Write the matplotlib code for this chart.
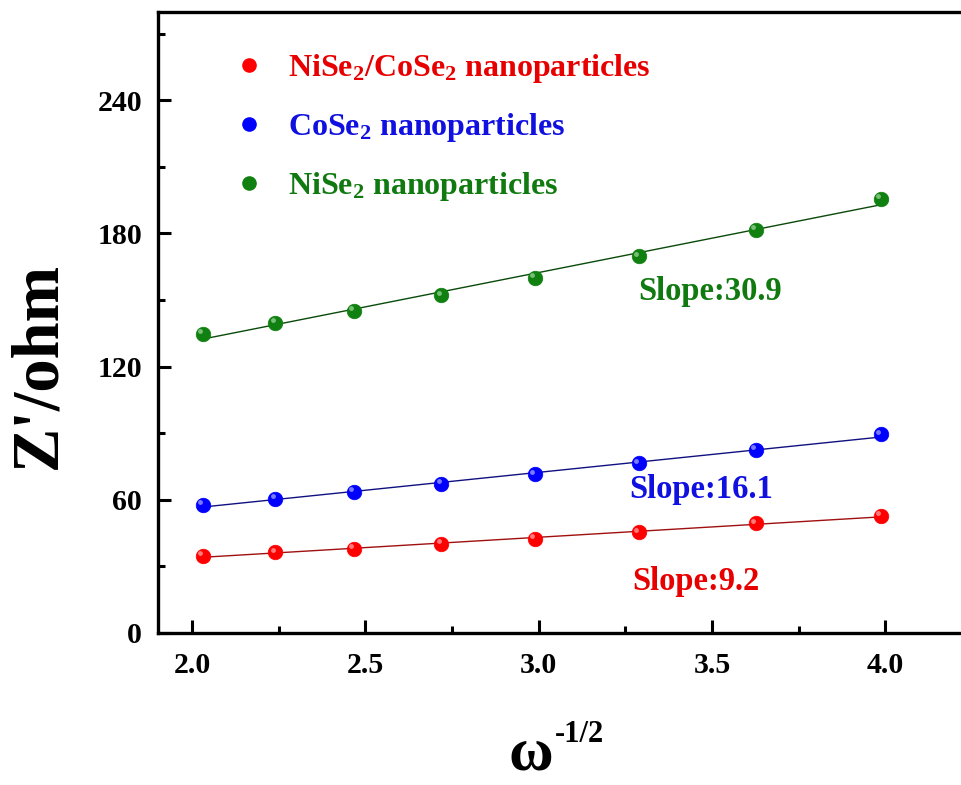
import matplotlib
matplotlib.use("Agg")
import matplotlib.pyplot as plt
import numpy as np
from matplotlib.lines import Line2D
from matplotlib.transforms import offset_copy

# ---- data ----
x_vals = [2.030, 2.240, 2.467, 2.719, 2.988, 3.290, 3.627, 3.986]
z_nise_cose = [34.7, 36.2, 37.8, 40.0, 42.3, 45.2, 49.3, 52.7]
z_cose = [57.7, 60.4, 63.4, 67.0, 71.4, 76.3, 82.3, 89.4]
z_nise = [134.9, 139.7, 145.1, 152.1, 160.1, 169.7, 181.7, 195.7]

labels = ["NiSe$_2$/CoSe$_2$ nanoparticles", "CoSe$_2$ nanoparticles", "NiSe$_2$ nanoparticles"]
slope_texts = ["Slope:9.2", "Slope:16.1", "Slope:30.9"]
x_ticks = [2.0, 2.5, 3.0, 3.5, 4.0]
y_ticks = [0, 60, 120, 180, 240]

plt.rcParams['font.family'] = ['Liberation Serif', 'DejaVu Serif']
plt.rcParams['font.weight'] = 'bold'
plt.rcParams['mathtext.fontset'] = 'custom'
plt.rcParams['mathtext.rm'] = 'Liberation Serif:bold'
plt.rcParams['mathtext.it'] = 'Liberation Serif:bold:italic'
plt.rcParams['mathtext.bf'] = 'Liberation Serif:bold'
plt.rcParams['mathtext.default'] = 'rm'

W, H = 961, 785
fig = plt.figure(figsize=(W / 100, H / 100), dpi=100)
# axes: left spine x=157.5px, bottom y=632.7px, top y=11.7px; right edge beyond figure
left = 157.5 / W
bottom = (H - 632.7) / H
top = (H - 11.7) / H
xmin, xmax = 1.9, 4.3
px_per_unit = 346.6
width = (xmax - xmin) * px_per_unit / W
ax = fig.add_axes([left, bottom, width, top - bottom])
ax.set_xlim(xmin, xmax)
ax.set_ylim(0, 280)

series = [
    (z_nise_cose, '#ff0000', '#a01010', '#ff9a9a'),
    (z_cose, '#0000ff', '#101080', '#9a9aff'),
    (z_nise, '#108010', '#0a4a0a', '#90d090'),
]
slope_pos = [(3.270, 19.2), (3.262, 60.6), (3.288, 149.9)]
slope_colors = ['#e80000', '#1010e0', '#107a10']

x = np.array(x_vals)
handles = []
for (ys, c, lc, hc), lab in zip(series, labels):
    ys = np.array(ys)
    p = np.polyfit(x, ys, 1)
    xf = np.array([x[0], x[-1]])
    ax.plot(xf, np.polyval(p, xf), color=lc, lw=1.0, zorder=2)
    ax.plot(x, ys, 'o', ms=10.5, color=c, mec=c, mew=0.5, zorder=3)
    hl = offset_copy(ax.transData, fig=fig, x=-2.0, y=2.0, units='points')
    ax.plot(x, ys, 'o', ms=3.5, color=hc, mec='none', alpha=0.8, zorder=4, transform=hl)
    handles.append(Line2D([], [], marker='o', ls='none', ms=9.5, color=c, mec=c))

for (tx, ty), t, c in zip(slope_pos, slope_texts, slope_colors):
    ax.text(tx, ty, t, color=c, fontsize=23.5, fontweight='bold', va='baseline', ha='left')

leg = ax.legend(handles, labels, loc='upper left',
                bbox_to_anchor=((234 - 157.5) / (width * W), (632.7 - 52) / (632.7 - 11.7)),
                frameon=False, fontsize=23, handlelength=0.95, handletextpad=0.75,
                labelspacing=0.82, borderpad=0, borderaxespad=0)
for txt, c in zip(leg.get_texts(), ['#e80000', '#1010e0', '#107a10']):
    txt.set_color(c)
    txt.set_fontweight('bold')

# spines & ticks
for s in ['left', 'bottom', 'top']:
    ax.spines[s].set_linewidth(2.4)
ax.spines['right'].set_visible(False)
ax.set_xticks(x_ticks)
ax.set_yticks(y_ticks)
ax.set_xticks([2.25, 2.75, 3.25, 3.75], minor=True)
ax.set_yticks([30, 90, 150, 210, 270], minor=True)
ax.set_xticklabels([f"{v:.1f}" for v in x_ticks])
ax.set_yticklabels([str(v) for v in y_ticks])
ax.tick_params(which='major', direction='in', length=9.5, width=2.2, labelsize=21.5, pad=11,
               top=False, right=False)
ax.tick_params(axis='x', which='major', pad=14)
ax.tick_params(which='minor', direction='in', length=5, width=2.2, top=False, right=False)
for lbl in ax.get_xticklabels() + ax.get_yticklabels():
    lbl.set_fontweight('bold')

# axis labels
fig.text(0.040, (H - 365) / H, "Z'/ohm", rotation=90, fontsize=48, fontweight='bold',
         ha='center', va='center')
fig.text(531 / W, 2 / H, "ω", fontsize=44, fontweight='bold', ha='center', va='bottom')
fig.text(555 / W, (H - 742) / H, "-1/2", fontsize=22, fontweight='bold', ha='left', va='baseline')

fig.savefig("out.png", dpi=100)
